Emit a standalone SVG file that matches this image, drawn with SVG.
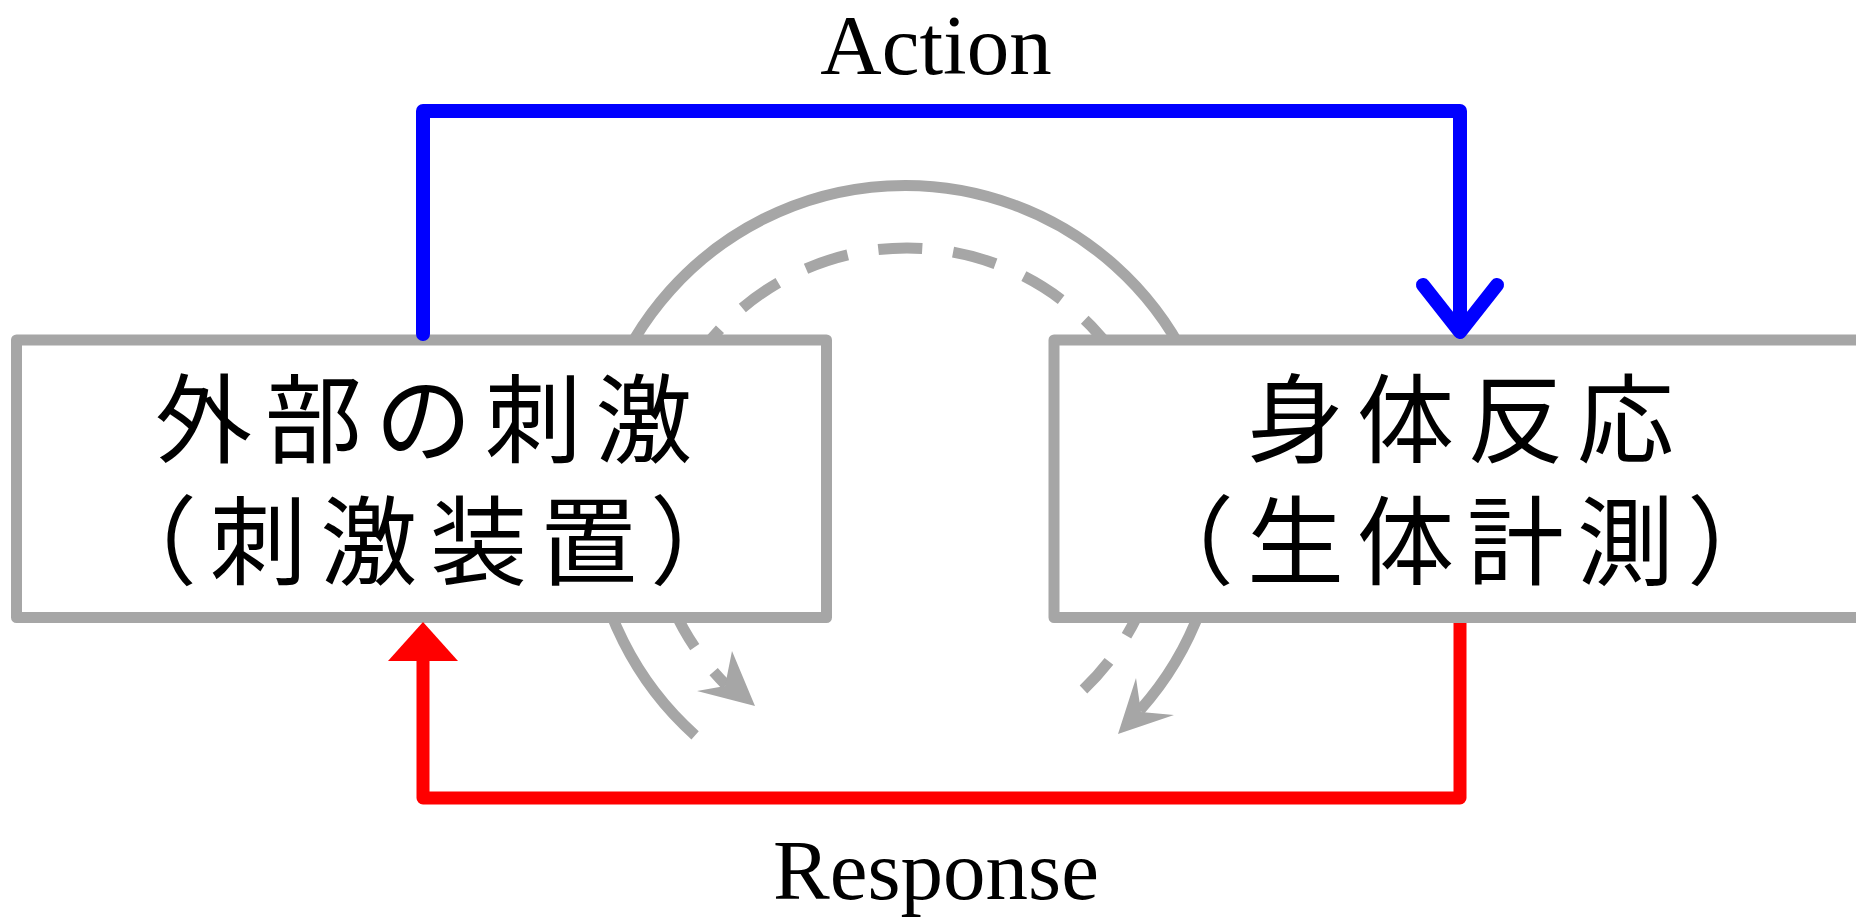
<svg xmlns="http://www.w3.org/2000/svg" width="1856" height="918" viewBox="0 0 1856 918">
<style>
.box{fill:#fff;stroke:#a6a6a6;stroke-width:11;stroke-linejoin:round}
.arc{fill:none;stroke:#a6a6a6;stroke-width:11}
.gh{fill:#a6a6a6}
.jp{font-family:"Noto Sans CJK JP","Noto Sans CJK SC",sans-serif;font-size:97px;fill:#000;text-anchor:middle;letter-spacing:13px}
.en{font-family:"Liberation Serif",serif;font-size:85px;fill:#000;text-anchor:middle}
.blue{fill:none;stroke:#0000ff;stroke-width:14;stroke-linejoin:round;stroke-linecap:round}
.red{fill:none;stroke:#ff0000;stroke-width:13;stroke-linejoin:round}
</style>
<rect width="1856" height="918" fill="#fff"/>
<g id="connectors">
<path class="arc" d="M695.1 735.3 A315 315 0 1 1 1139.8 710.4"/>
<polygon class="gh" points="1118,734 1136,678 1141,712 1174,715"/>
<path class="arc" d="M1083.5 689.4 A256 256 0 1 0 726 685" stroke-dasharray="44 31" stroke-dashoffset="6"/>
<polygon class="gh" points="755,706 732,651 725,686 697,691"/>
</g>
<g id="node-stimulus">
<rect class="box" x="16.5" y="340" width="810" height="277.5"/>
<text class="jp"><tspan x="430" y="455">外部の刺激</tspan><tspan x="430" y="577">（刺激装置）</tspan></text>
</g>
<g id="node-response">
<rect class="box" x="1054" y="340" width="810" height="277.5"/>
<text class="jp"><tspan x="1467" y="455">身体反応</tspan><tspan x="1467" y="577">（生体計測）</tspan></text>
</g>
<g id="edges">
<path class="blue" d="M423 334 V111 H1460 V330"/>
<path class="blue" d="M1423 285 L1460 332 L1497 285"/>
<path class="red" d="M1460 623 V798 H423 V655"/>
<polygon fill="#ff0000" points="423,622 388,661 458,661"/>
<text class="en" x="936" y="74">Action</text>
<text class="en" x="936" y="899">Response</text>
</g>
</svg>
